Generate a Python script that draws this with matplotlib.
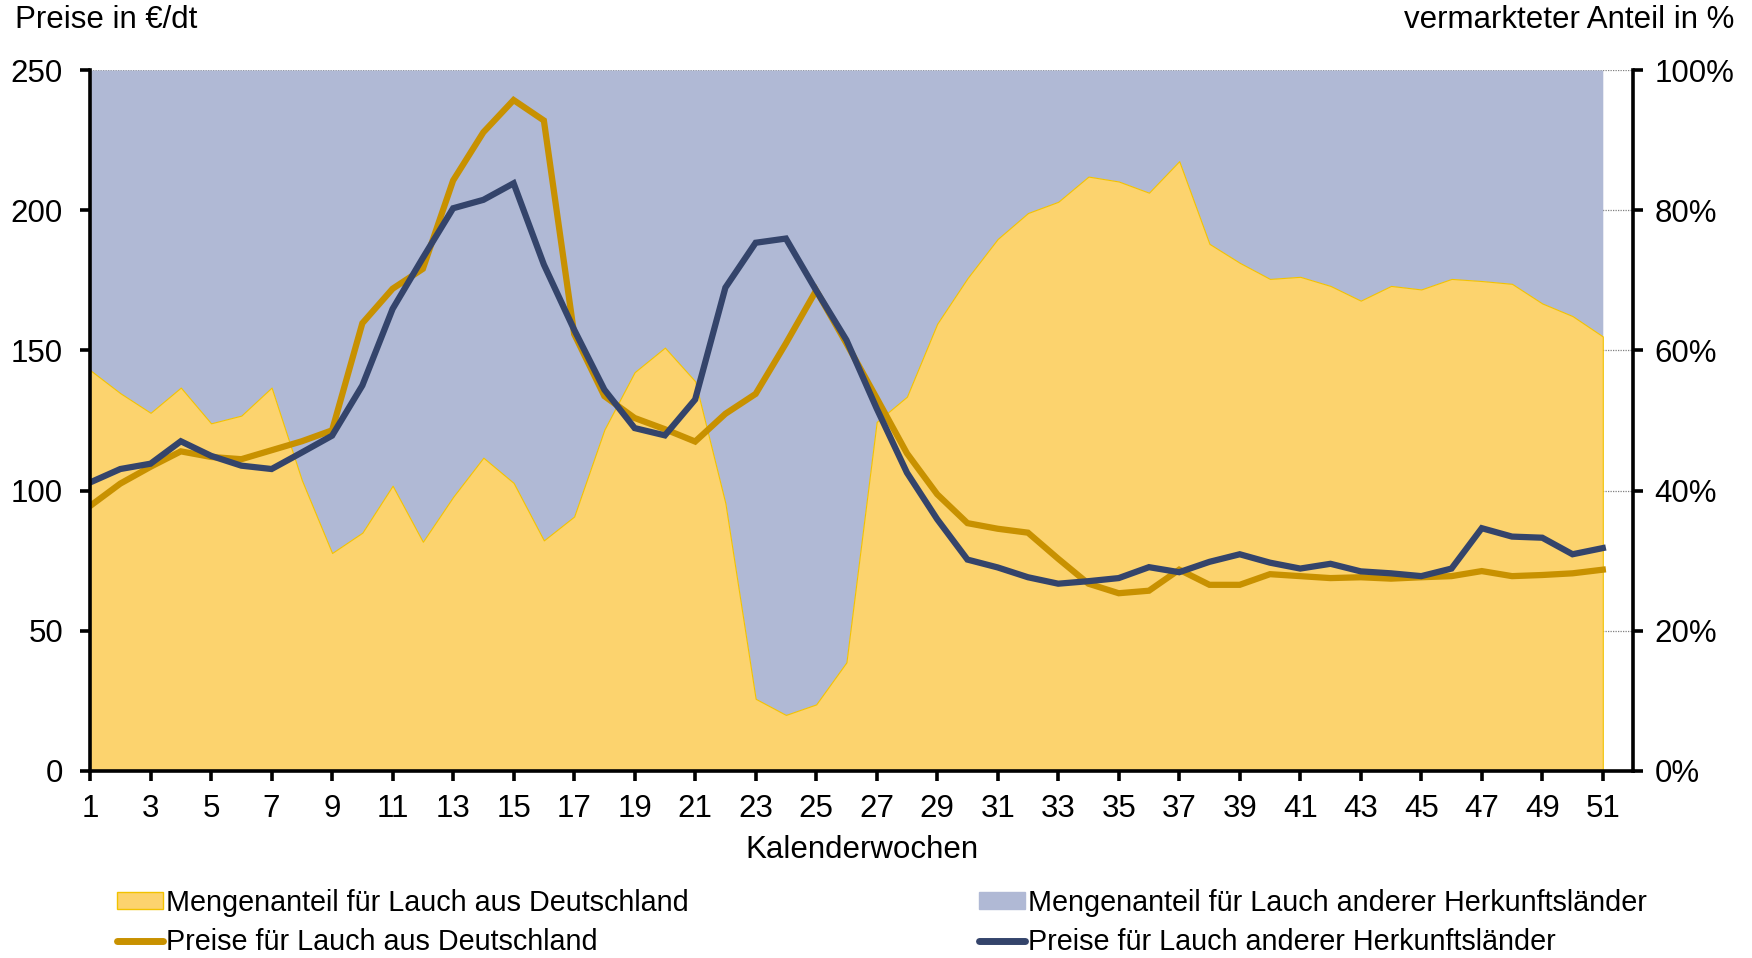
import matplotlib
matplotlib.use('Agg')
import matplotlib.pyplot as plt
from matplotlib.patches import Patch
from matplotlib.lines import Line2D
from matplotlib.ticker import FuncFormatter

plt.rcParams['font.family'] = ['Liberation Sans', 'DejaVu Sans']

# Kalenderwochen 1..51
wochen = list(range(1, 52))

# Mengenanteil Lauch aus Deutschland in %
anteil_de = [57.2, 53.9, 51.1, 54.7, 49.6, 50.7, 54.7, 41.5, 31.1, 34.0,
             40.7, 32.7, 39.1, 44.7, 41.1, 32.9, 36.3, 48.7, 56.9, 60.4,
             55.6, 38.2, 10.3, 8.0, 9.5, 15.5, 49.8, 53.4, 63.8, 70.3,
             75.9, 79.6, 81.2, 84.8, 84.1, 82.5, 87.0, 75.2, 72.5, 70.2,
             70.5, 69.2, 67.1, 69.2, 68.7, 70.2, 69.9, 69.5, 66.7, 64.9,
             62.0]

# Preise in EUR/dt
preis_de = [94.5, 102.5, 108.5, 114.0, 112.0, 111.2, 114.4, 117.6, 121.5, 159.7,
            172.0, 179.1, 210.6, 227.8, 239.3, 232.0, 155.9, 133.7, 125.9, 121.9,
            117.5, 127.4, 134.5, 152.5, 171.4, 152.5, 133.0, 113.3, 98.7, 88.4,
            86.4, 85.0, 75.7, 66.8, 63.4, 64.3, 71.8, 66.4, 66.4, 70.2,
            69.5, 68.8, 69.1, 68.6, 69.1, 69.5, 71.3, 69.5, 69.9, 70.5,
            71.8]
preis_ausl = [102.9, 107.7, 109.6, 117.6, 112.4, 108.9, 107.7, 113.6, 119.6, 137.5,
              164.8, 183.0, 200.7, 203.7, 209.6, 180.6, 157.4, 136.0, 122.3, 119.7,
              132.5, 172.4, 188.4, 189.9, 171.4, 153.7, 129.3, 106.4, 89.8, 75.4,
              72.6, 69.1, 66.8, 67.7, 68.8, 72.7, 70.9, 74.6, 77.3, 74.3,
              72.2, 73.9, 71.2, 70.5, 69.5, 72.2, 86.6, 83.6, 83.2, 77.3,
              79.5]

gelb = '#FCD36E'
gelb_rand = '#F2C200'
blau_flaeche = '#B0B9D5'
gold = '#C89100'
dunkelblau = '#34446B'
fs = 22.5

fig = plt.figure(figsize=(17.52, 9.58), dpi=100)
ax = fig.add_axes([0.0514, 0.1952, 0.8807, 0.7317])
ax2 = ax.twinx()

# areas on the right axis (share in %)
ax2.set_facecolor('#F0F0F0')
ax2.set_axisbelow(True)
ax2.grid(axis='y', color='#7F7F7F', ls=(0, (1, 1)), lw=0.9)
ax2.fill_between(wochen, anteil_de, 100, color=blau_flaeche, lw=0, zorder=2)
ax2.fill_between(wochen, 0, anteil_de, facecolor=gelb, edgecolor=gelb_rand, lw=0.8, zorder=2)
ax2.set_ylim(0, 100)
ax2.set_yticks(range(0, 101, 20))
ax2.yaxis.set_major_formatter(FuncFormatter(lambda v, p: '%d%%' % v))

# price lines on the left axis, drawn above the areas
ax.set_zorder(ax2.get_zorder() + 1)
ax.patch.set_visible(False)
ax.plot(wochen, preis_de, color=gold, lw=4.5, solid_joinstyle='miter')
ax.plot(wochen, preis_ausl, color=dunkelblau, lw=4.5, solid_joinstyle='miter')
ax.set_xlim(1, 52)
ax.set_ylim(0, 250)
ax.set_yticks(range(0, 251, 50))
ax.set_xticks(range(1, 52, 2))

for s in ['top', 'right']:
    ax.spines[s].set_visible(False)
for s in ['top', 'left', 'bottom']:
    ax2.spines[s].set_visible(False)
ax.spines['left'].set_linewidth(2.6)
ax.spines['bottom'].set_linewidth(2.6)
ax2.spines['right'].set_linewidth(2.6)

ax.tick_params(axis='both', direction='out', length=7.5, width=2.6, labelsize=fs, pad=9)
ax.tick_params(axis='y', pad=12)
ax2.tick_params(axis='y', direction='out', length=7.5, width=2.6, labelsize=fs, pad=8)

ax.set_xlabel('Kalenderwochen', fontsize=fs, labelpad=8)
fig.text(15 / 1752, 1 - 20 / 958, 'Preise in €/dt', fontsize=fs, ha='left', va='center')
fig.text(1734 / 1752, 1 - 20 / 958, 'vermarkteter Anteil in %', fontsize=fs, ha='right', va='center')

# legend in two columns
h1 = [Patch(facecolor=gelb, edgecolor=gelb_rand, lw=1),
      Line2D([], [], color=gold, lw=5, solid_capstyle='round')]
l1 = ['Mengenanteil für Lauch aus Deutschland', 'Preise für Lauch aus Deutschland']
h2 = [Patch(facecolor=blau_flaeche, edgecolor=blau_flaeche, lw=1),
      Line2D([], [], color=dunkelblau, lw=5, solid_capstyle='round')]
l2 = ['Mengenanteil für Lauch anderer Herkunftsländer', 'Preise für Lauch anderer Herkunftsländer']
kw = dict(loc='upper left', frameon=False, fontsize=20.7, handlelength=1.6,
          handleheight=0.55, handletextpad=0.1, labelspacing=0.4,
          borderpad=0, borderaxespad=0)
fig.legend(h1, l1, bbox_to_anchor=(117 / 1752, 1 - 889 / 958), **kw)
fig.legend(h2, l2, bbox_to_anchor=(979 / 1752, 1 - 889 / 958), **kw)

fig.savefig('out.png', dpi=100)
